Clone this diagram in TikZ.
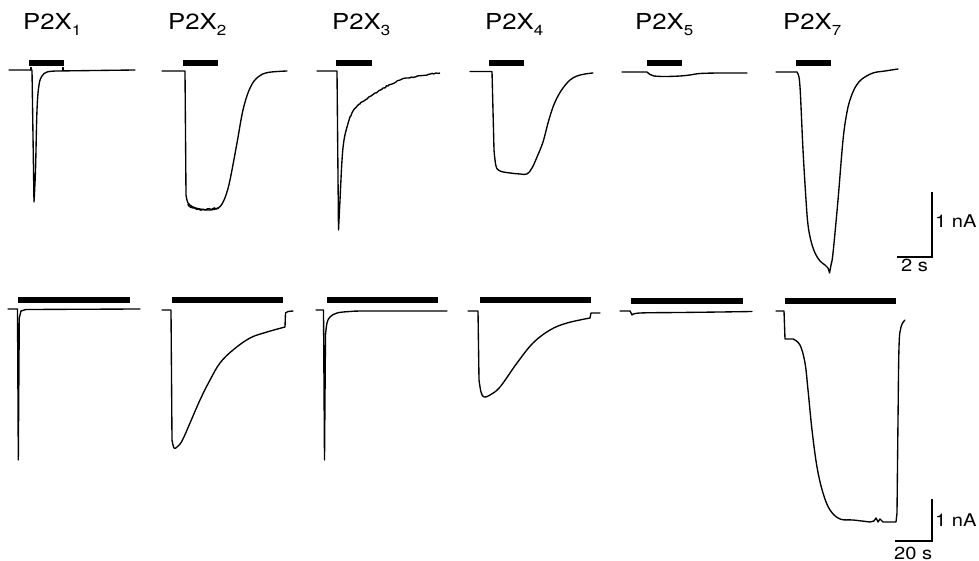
\documentclass[tikz,border=0pt]{standalone}
\usepackage{fontspec}
\setmainfont{TeX Gyre Heros}
\usetikzlibrary{decorations.pathmorphing}
\begin{document}
\begin{tikzpicture}[x=1pt,y=-1pt,
  trace/.style={line width=1.35pt,line join=round,line cap=round},
  stim/.style={line width=6pt},
  sbar/.style={line width=1.3pt},
  lbl/.style={anchor=base west,inner sep=0pt,font=\fontsize{22}{24}\selectfont},
  slbl/.style={anchor=base west,inner sep=0pt,font=\fontsize{17.5}{19}\selectfont}]
\useasboundingbox (0,0) rectangle (979,561);
\newcommand{\plab}[1]{\scalebox{1.17}[1]{P2X\raisebox{-5.5pt}{\fontsize{14.5}{15}\selectfont #1}}}
\newcommand{\slab}[1]{\scalebox{1.15}[1]{#1}}
% labels
\node[lbl] (l1) at (23,30) {\plab{1}};
\node[lbl] (l2) at (168,30) {\plab{2}};
\node[lbl] (l3) at (332,30) {\plab{3}};
\node[lbl] (l4) at (485,30) {\plab{4}};
\node[lbl] (l5) at (635,30) {\plab{5}};
\node[lbl] (l7) at (783,30) {\plab{7}};
% top stimulus bars
\draw[stim] (29,63) -- (64,63);
\draw[stim] (183,63) -- (218,63);
\draw[stim] (336,63) -- (372,63);
\draw[stim] (489,63) -- (524,63);
\draw[stim] (647,63) -- (682,63);
\draw[stim] (796,63) -- (831,63);
% top traces
\draw[trace] (9,70) -- (32,70) -- (34,202) -- plot[smooth,tension=0.6] coordinates {(34,202)(35.5,170)(37,110)(39,85)(42,76)(47,72)(56,71)} -- (135,70);
\draw[trace] (31,67.5) -- (31,70);
\draw[trace] (63,67.5) -- (63,70);
\draw[trace] (162,71) -- (185,71) -- (186,195) -- plot[smooth,tension=0.6] coordinates {(186,195)(188,203)(193,207)(200,209)(210,210)(218,208)(222,204)(226,195)(230,180)(237,143)(243,110)(250,88)(258,77)(268,72.5)(287,71)};
\draw[line width=1.3pt,decorate,decoration={random steps,segment length=2pt,amplitude=1pt}] (188,204) -- (193,208) -- (205,210) -- (219,208);
\draw[trace] (317,71) -- (337,71) -- (338.5,230) -- plot[smooth,tension=0.6] coordinates {(338.5,230)(340,200)(342,160)(344,140)(347,127)(350,117)};
\draw[line width=1.35pt,line join=round,decorate,decoration={random steps,segment length=2pt,amplitude=0.8pt}] (350,117) -- (353,111) -- (356,107.5) -- (360,104) -- (364,101) -- (367,99) -- (371,96) -- (375,93) -- (379,90.5) -- (383,88) -- (388,86) -- (392,84) -- (396,82) -- (400,80) -- (408,78) -- (417,76) -- (428,74.5) -- (440,73);
\draw[trace] (470,71.5) -- (492,71.5) -- (494,150) -- plot[smooth,tension=0.6] coordinates {(494,150)(496,166)(500,171)(510,173)(520,174)(527,174)(532,168)(537,157)(543,142)(548,123)(553,107)(558,96)(563,88)(570,80)(577,76)(585,74)(593,73)};
\draw[trace] (622,72) -- (647,72) -- plot[smooth,tension=0.6] coordinates {(647,72)(650,74.5)(654,76)(665,76.5)(680,76)(690,75)(700,73.5)(720,73)(747,73)};
\draw[trace] (776,72) -- (797,72) -- (798,74) -- plot[smooth,tension=0.6] coordinates {(798,74)(800,87)(803,150)(806,200)(808,225)(811,241)(815,253)(820,261)(825,265)(828,268)(829.5,273)} -- plot[smooth,tension=0.6] coordinates {(829.5,273)(831,265)(833,253)(838,200)(843,140)(847,112)(851,97)(856,86)(862,79)(873,73)(885,71)(898,69)};
% top scale bar
\coordinate (s1t) at (932,192);
\coordinate (s1c) at (932,257);
\coordinate (s1l) at (897,257);
\draw[sbar] (s1t) -- (s1c) -- (s1l);
\node[slbl] (s1n) at (935,228) {\slab{1 nA}};
\node[slbl] (s1s) at (901,272) {\slab{2 s}};
% bottom stimulus bars
\draw[stim] (18,300) -- (130,300);
\draw[stim] (172,300) -- (283,300);
\draw[stim] (327,300) -- (438,300);
\draw[stim] (480,300) -- (591,300);
\draw[stim] (631,301) -- (743,301);
\draw[stim] (785,301) -- (896,301);
% bottom traces
\draw[trace] (8,309) -- (17.5,309) -- (18.3,460) -- (19.3,318) -- (21,311) -- (26,309.5) -- (140,309);
\draw[trace] (162,310) -- (171,310) -- (172,440) -- plot[smooth,tension=0.6] coordinates {(172,440)(174,448)(177,447)(182,441)(190,423)(200,400)(210,380)(220,363)(233,350)(250,338)(267,332)(285,327)} -- (285.5,313) -- (288,311.5) -- (293,311);
\draw[trace] (316,310) -- (323.5,310) -- (324.5,460) -- (325.5,335) -- plot[smooth,tension=0.6] coordinates {(325.5,335)(327,323)(330,317)(337,313)(350,311.5)(367,311)(447,311)};
\draw[trace] (468,311) -- (478,311) -- (479,380) -- plot[smooth,tension=0.6] coordinates {(479,380)(481,392)(484,397)(490,395)(500,387)(517,363)(533,343)(550,330)(567,323)(590,318)} -- (591,313) -- (600,313);
\draw[trace] (620,311) -- (630,311) -- (632,315) -- plot[smooth,tension=0.6] coordinates {(632,315)(640,313)(680,312.5)(720,312)(752,311.5)};
\draw[trace] (776,311) -- (784,311) -- (785,339) -- (793,339) -- plot[smooth,tension=0.6] coordinates {(793,339)(800,345)(805,363)(808,390)(812,430)(817,467)(823,493)(830,510)(840,519)(853,520)(870,522)} -- (874,521) -- (876,518) -- (878,522) -- (880,519) -- (883,522) -- (896,522) -- (897,513) -- plot[smooth,tension=0.6] coordinates {(897,513)(898,420)(899,347)(901,327)(905,320)};
% bottom scale bar
\coordinate (s2t) at (932,499);
\coordinate (s2c) at (932,541);
\coordinate (s2l) at (895,541);
\draw[sbar] (s2t) -- (s2c) -- (s2l);
\node[slbl] (s2n) at (935,526) {\slab{1 nA}};
\node[slbl] (s2s) at (894,559) {\slab{20 s}};
\end{tikzpicture}
\end{document}
